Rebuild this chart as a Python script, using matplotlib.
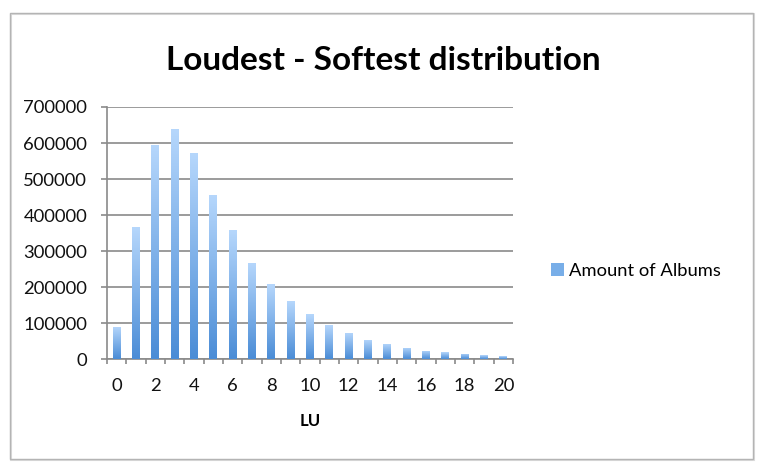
"""Loudest - Softest distribution, Excel-style gradient bar chart."""

import matplotlib

matplotlib.use("Agg")
import matplotlib.pyplot as plt  # noqa: E402
import numpy as np  # noqa: E402
from matplotlib.colors import LinearSegmentedColormap  # noqa: E402
from matplotlib.patches import Rectangle  # noqa: E402

lu = list(range(21))
albums = [89000, 366000, 594000, 638000, 572000, 455000, 358000, 267000,
          208000, 161000, 125000, 94000, 73000, 53000, 42000, 31000,
          23000, 18500, 14000, 10300, 7500]
yticks = [0, 100000, 200000, 300000, 400000, 500000, 600000, 700000]
xticks = list(range(0, 21, 2))
title = "Loudest - Softest distribution"
xlabel = "LU"
series_name = "Amount of Albums"

plt.rcParams["font.family"] = ["Lato", "DejaVu Sans"]

W, H = 765, 472
fig = plt.figure(figsize=(W / 100, H / 100), dpi=100)
fig.patch.set_facecolor("white")

# outer chart frame with faint shadow
fig.patches.append(Rectangle((11 / W, 1 - 460 / H), 743 / W, 446 / H,
                             transform=fig.transFigure, fill=False,
                             ec="#dddddd", lw=1.5))
fig.patches.append(Rectangle((10 / W, 1 - 459 / H), 743 / W, 446 / H,
                             transform=fig.transFigure, fill=False,
                             ec="#b4b4b4", lw=1.0))

ax = fig.add_axes([107 / W, 1 - 359 / H, 406 / W, 252 / H])

grad = LinearSegmentedColormap.from_list("bar", ["#4a8cd6", "#b6d7fc"])
bars = ax.bar(lu, albums, width=0.4, color="none", ec="none", zorder=3)
g = np.linspace(0, 1, 256).reshape(-1, 1)
for b in bars:
    x0, y0 = b.get_x(), b.get_y()
    im = ax.imshow(g, extent=[x0, x0 + b.get_width(), y0, y0 + b.get_height()],
                   origin="lower", aspect="auto", cmap=grad, zorder=3)
    im.set_clip_path(b)

ax.set_xlim(-0.5, 20.5)
ax.set_ylim(0, 700000)
ax.set_yticks(yticks)
ax.set_yticklabels([str(v) for v in yticks])
ax.set_xticks(xticks)
ax.set_xticks(np.arange(-0.5, 21, 1), minor=True)
ax.tick_params(axis="x", which="major", length=0, pad=14, labelsize=13.3,
               labelcolor="#111111")
ax.tick_params(axis="x", which="minor", length=3.6, width=1.2, color="#8a8a8a",
               direction="out")
ax.tick_params(axis="y", length=4.3, width=1.2, color="#8a8a8a", pad=10,
               labelsize=13.3, labelcolor="#111111")
ax.grid(axis="y", color="#8a8a8a", lw=1.2, zorder=1)
ax.set_axisbelow(True)
for s in ("top", "right"):
    ax.spines[s].set_visible(False)
for s in ("left", "bottom"):
    ax.spines[s].set_color("#8a8a8a")
    ax.spines[s].set_linewidth(1.2)

ax.set_xlabel(xlabel, fontsize=12, fontweight="bold", labelpad=13)
fig.text(383 / W, 1 - 61 / H, title, ha="center", va="center",
         fontsize=24, fontweight="bold")

handle = Rectangle((0, 0), 1, 1, fc="#78aee8", ec="none")
fig.legend([handle], [series_name], loc="center left",
           bbox_to_anchor=(551 / W, 1 - 271 / H), frameon=False,
           fontsize=13.2, handlelength=0.7, handleheight=0.7,
           handletextpad=0.3, borderpad=0, borderaxespad=0)

fig.savefig("out.png", dpi=100)
plt.close(fig)
